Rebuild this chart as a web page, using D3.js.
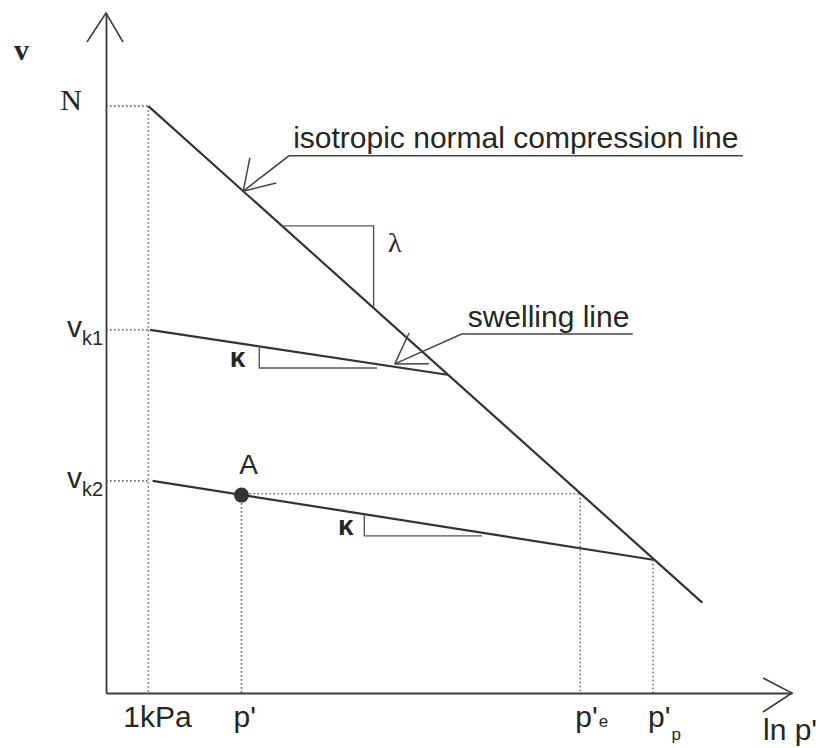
<!DOCTYPE html>
<html><head><meta charset="utf-8">
<script src="https://cdn.jsdelivr.net/npm/d3@7"></script>
<style>html,body{margin:0;padding:0;background:#fff;} svg{display:block;}</style>
</head><body><svg id="chart" width="819" height="748"></svg>
<script>
// ---- data (x = ln p', y = v) ----
const xTickLabels = [["1kPa", ""], ["p'", ""], ["p'", "e"], ["p'", "p"]];
const xTickValues = [0, 1.1, 5.1, 5.96];
const guideTops   = [8.63, 2.91, 2.93, 1.96];      // v where each vertical dotted guide starts
const yTickLabels = [["N", ""], ["v", "k1"], ["v", "k2"]];
const yTickValues = [8.63, 5.34, 3.12];
const nclLine       = [[0, 8.63], [6.54, 1.33]];
const swellingLine1 = [[0.02, 5.34], [3.53, 4.68]];
const swellingLine2 = [[0.05, 3.12], [5.96, 1.96]];
const pointA  = [1.1, 2.91];
const peGuide = [[1.1, 2.93], [5.1, 2.93]];
const lambdaTriangle = [[1.58, 6.87], [2.66, 6.87], [2.66, 5.66]];
const kappaTriangle1 = [[1.31, 5.10], [1.31, 4.78], [2.70, 4.78]];
const kappaTriangle2 = [[2.55, 2.63], [2.55, 2.31], [3.94, 2.31]];
const nclLeader   = [[1.12, 7.38], [1.66, 7.90], [7.02, 7.90]];
const swellLeader = [[2.91, 4.84], [3.70, 5.28], [5.72, 5.28]];
const annotationTexts = ["isotropic normal compression line", "swelling line"];
const annotationPos   = [[1.71, 8.01], [3.77, 5.38]];
const slopeLabels = ["λ", "κ", "κ"];
const slopeLabelPos = [[2.83, 6.49], [0.96, 4.79], [2.24, 2.32]];

// ---- scales ----
const xDomain = [-0.5, 7.6], yDomain = [0, 10];
const x = d3.scaleLinear().domain(xDomain).range([106, 792]);
const y = d3.scaleLinear().domain(yDomain).range([693, 13]);

const svg = d3.select("#chart");
const ink = "#262626";
const sans = "'Liberation Sans', Arial, sans-serif";
const serif = "'Liberation Serif', 'Times New Roman', serif";
const line = d3.line().x(d => x(d[0])).y(d => y(d[1]));

// ---- dotted guides ----
const dot = svg.append("g").attr("stroke", "#6a6a6a").attr("stroke-width", 1.6)
  .attr("stroke-dasharray", "1.6,2.4").attr("fill", "none");
yTickValues.forEach(v => dot.append("path").attr("d", line([[xDomain[0], v], [0, v]])));
xTickValues.forEach((p, i) => dot.append("path").attr("d", line([[p, guideTops[i]], [p, 0]])));
dot.append("path").attr("d", line(peGuide));

// ---- axes ----
const axX = svg.append("g").attr("transform", `translate(0,${y(0)})`)
  .call(d3.axisBottom(x).tickValues([]).tickSizeOuter(0));
const axY = svg.append("g").attr("transform", `translate(${x(xDomain[0])},0)`)
  .call(d3.axisLeft(y).tickValues([]).tickSizeOuter(0));
[axX, axY].forEach(a => a.select(".domain").attr("stroke", "#3a3a3a").attr("stroke-width", 1.8));
// axis arrowheads
const arrow = svg.append("g").attr("stroke", "#3a3a3a").attr("stroke-width", 1.5).attr("fill", "none");
const tipY = [x(xDomain[0]), y(yDomain[1])];
arrow.append("path").attr("d", `M${tipY[0]-19},${tipY[1]+29}L${tipY[0]},${tipY[1]}L${tipY[0]+17},${tipY[1]+29}`);
const tipX = [x(xDomain[1]), y(0)];
arrow.append("path").attr("d", `M${tipX[0]-29},${tipX[1]-15}L${tipX[0]},${tipX[1]}L${tipX[0]-29},${tipX[1]+19}`);

// ---- main lines ----
const main = svg.append("g").attr("stroke", "#333").attr("stroke-width", 2.2).attr("fill", "none");
[nclLine, swellingLine1, swellingLine2].forEach(l => main.append("path").attr("d", line(l)));

// ---- slope triangles ----
const tri = svg.append("g").attr("stroke", "#555").attr("stroke-width", 1.4).attr("fill", "none");
[lambdaTriangle, kappaTriangle1, kappaTriangle2].forEach(t => tri.append("path").attr("d", line(t)));

// ---- annotation leaders with arrowheads ----
const lead = svg.append("g").attr("stroke", "#444").attr("stroke-width", 1.5).attr("fill", "none");
[nclLeader, swellLeader].forEach(l => {
  lead.append("path").attr("d", line(l));
  const tx = x(l[0][0]), ty = y(l[0][1]);
  const ang = Math.atan2(y(l[1][1]) - ty, x(l[1][0]) - tx);
  [-41, 24].forEach(off => {
    const a = ang + off * Math.PI / 180;
    lead.append("path").attr("d", `M${tx},${ty}L${tx + 34 * Math.cos(a)},${ty + 34 * Math.sin(a)}`);
  });
});
annotationTexts.forEach((t, i) => svg.append("text")
  .attr("x", x(annotationPos[i][0])).attr("y", y(annotationPos[i][1]))
  .attr("font-family", sans).attr("font-size", 30).attr("fill", ink).text(t));

// ---- point A ----
svg.append("circle").attr("cx", x(pointA[0])).attr("cy", y(pointA[1])).attr("r", 7.5).attr("fill", "#333");
svg.append("text").attr("x", x(pointA[0]) + 7).attr("y", y(pointA[1]) - 21)
  .attr("text-anchor", "middle").attr("font-family", sans).attr("font-size", 28).attr("fill", ink).text("A");

// ---- slope labels ----
slopeLabels.forEach((s, i) => svg.append("text")
  .attr("x", x(slopeLabelPos[i][0])).attr("y", y(slopeLabelPos[i][1]))
  .attr("font-family", i === 0 ? serif : sans).attr("font-weight", i === 0 ? "normal" : "bold")
  .attr("font-size", i === 0 ? 28 : 28).attr("fill", ink).text(s));

// ---- y labels ----
yTickLabels.forEach((lab, i) => {
  const t = svg.append("text").attr("x", i === 0 ? 82 : 103).attr("y", y(yTickValues[i]) + (i === 0 ? 4 : 7))
    .attr("text-anchor", "end").attr("fill", ink)
    .attr("font-family", i === 0 ? serif : sans).attr("font-size", 30);
  t.append("tspan").text(lab[0]);
  if (lab[1]) t.append("tspan").attr("dy", 8).attr("font-size", 20).text(lab[1]);
});
// axis title v
svg.append("text").attr("x", 14).attr("y", 60).attr("font-family", serif).attr("font-weight", "bold")
  .attr("font-size", 30).attr("fill", ink).text("v");

// ---- x labels ----
const xOff = [-25, -8, -5, -5];
xTickLabels.forEach((lab, i) => {
  const t = svg.append("text").attr("x", x(xTickValues[i]) + xOff[i]).attr("y", 727)
    .attr("font-family", sans).attr("font-size", 30).attr("fill", ink);
  t.append("tspan").text(lab[0]);
  if (lab[1]) t.append("tspan").attr("dy", lab[1] === "p" ? 13 : 0).attr("dx", 1).attr("font-size", 17).text(lab[1]);
});
svg.append("text").attr("x", 763).attr("y", 740).attr("font-family", sans).attr("font-size", 30)
  .attr("fill", ink).text("ln p'");
</script></body></html>
